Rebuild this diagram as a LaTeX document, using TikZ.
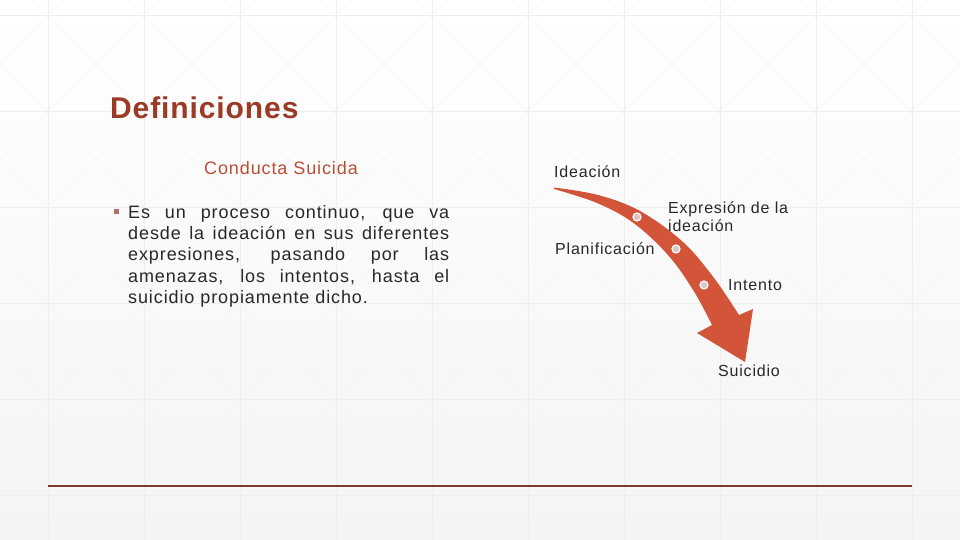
\documentclass[tikz,border=0pt]{standalone}
\usepackage{fontspec}
\setmainfont{Liberation Sans}[LetterSpace=5]
\newfontfamily\titlefont{Liberation Sans}[LetterSpace=3]
\definecolor{titlered}{RGB}{155,58,38}
\definecolor{subred}{RGB}{185,78,55}
\definecolor{arrowred}{RGB}{210,85,58}
\definecolor{linered}{RGB}{125,58,46}
\definecolor{bodytext}{RGB}{40,40,40}
\definecolor{bulletc}{RGB}{175,115,105}
\definecolor{gridc}{RGB}{238,238,238}
\tikzset{
  lbl/.style={anchor=base west, inner sep=0pt, text=bodytext, font=\fontsize{16}{18.5}\selectfont},
  dotmark/.style={circle, minimum size=8pt, inner sep=0pt, fill={rgb,255:red,222;green,198;blue,196}, draw=white, line width=1.2pt},
}
\begin{document}
\begin{tikzpicture}[x=1pt,y=-1pt]
\useasboundingbox (0,0) rectangle (960,540);
% background
\shade[top color=white, bottom color={rgb,255:red,244;green,244;blue,244}] (0,0) rectangle (960,540);
\begin{scope}
\clip (0,0) rectangle (960,540);
\foreach \k in {-6,...,15} {
  \draw[gridc!60, line width=0.5pt] (33+96*\k,0) -- (573+96*\k,540);
  \draw[gridc!60, line width=0.5pt] (63+96*\k,0) -- (-477+96*\k,540);
}
\foreach \k in {0,...,9} \draw[gridc, line width=0.5pt] (48+96*\k,0) -- (48+96*\k,540);
\foreach \k in {0,...,5} \draw[gridc, line width=0.5pt] (0,15+96*\k) -- (960,15+96*\k);
\end{scope}
% title
\node[anchor=base west, inner sep=0pt, text=titlered, font=\titlefont\bfseries\fontsize{30}{36}\selectfont] (title) at (110,118.3) {Definiciones};
\node[anchor=base, inner sep=0pt, text=subred, font=\fontsize{18}{21}\selectfont] (sub) at (281,175) {Conducta Suicida};
% bullet
\fill[bulletc] (113.5,208.5) rectangle (118.5,213.5);
\node[anchor=base west, inner sep=0pt, text=bodytext, align=left, font=\fontsize{18}{21.25}\selectfont] (body) at (128,303.3)
 {\makebox[321pt][s]{Es un proceso continuo, que va}\\
  \makebox[321pt][s]{desde la ideación en sus diferentes}\\
  \makebox[321pt][s]{expresiones, pasando por las}\\
  \makebox[321pt][s]{amenazas, los intentos, hasta el}\\
  suicidio propiamente dicho.};
% arrow
\fill[arrowred] plot[smooth, tension=0.6] coordinates {(554,187.5) (598,195) (640,211) (683,242) (714,278) (739,315)}
  -- (753,309) -- (745,362) -- (697,333) -- (712,325)
  -- plot[smooth, tension=0.6] coordinates {(712,325) (694,291.5) (668.5,255.6) (633.5,223) (597,203) (554,189)} -- cycle;
\node[dotmark] (d1) at (637,217) {};
\node[dotmark] (d2) at (676,249) {};
\node[dotmark] (d3) at (704,285) {};
% labels
\node[lbl] (l1) at (554,178) {Ideación};
\node[lbl, align=left] (l2) at (668,231.7) {Expresión de la\\ideación};
\node[lbl] (l3) at (555,254) {Planificación};
\node[lbl] (l4) at (728,290) {Intento};
\node[lbl] (l5) at (718,376.7) {Suicidio};
% bottom line
\draw[linered, line width=2pt] (48,485.5) -- (912,485.5);
\end{tikzpicture}
\end{document}
